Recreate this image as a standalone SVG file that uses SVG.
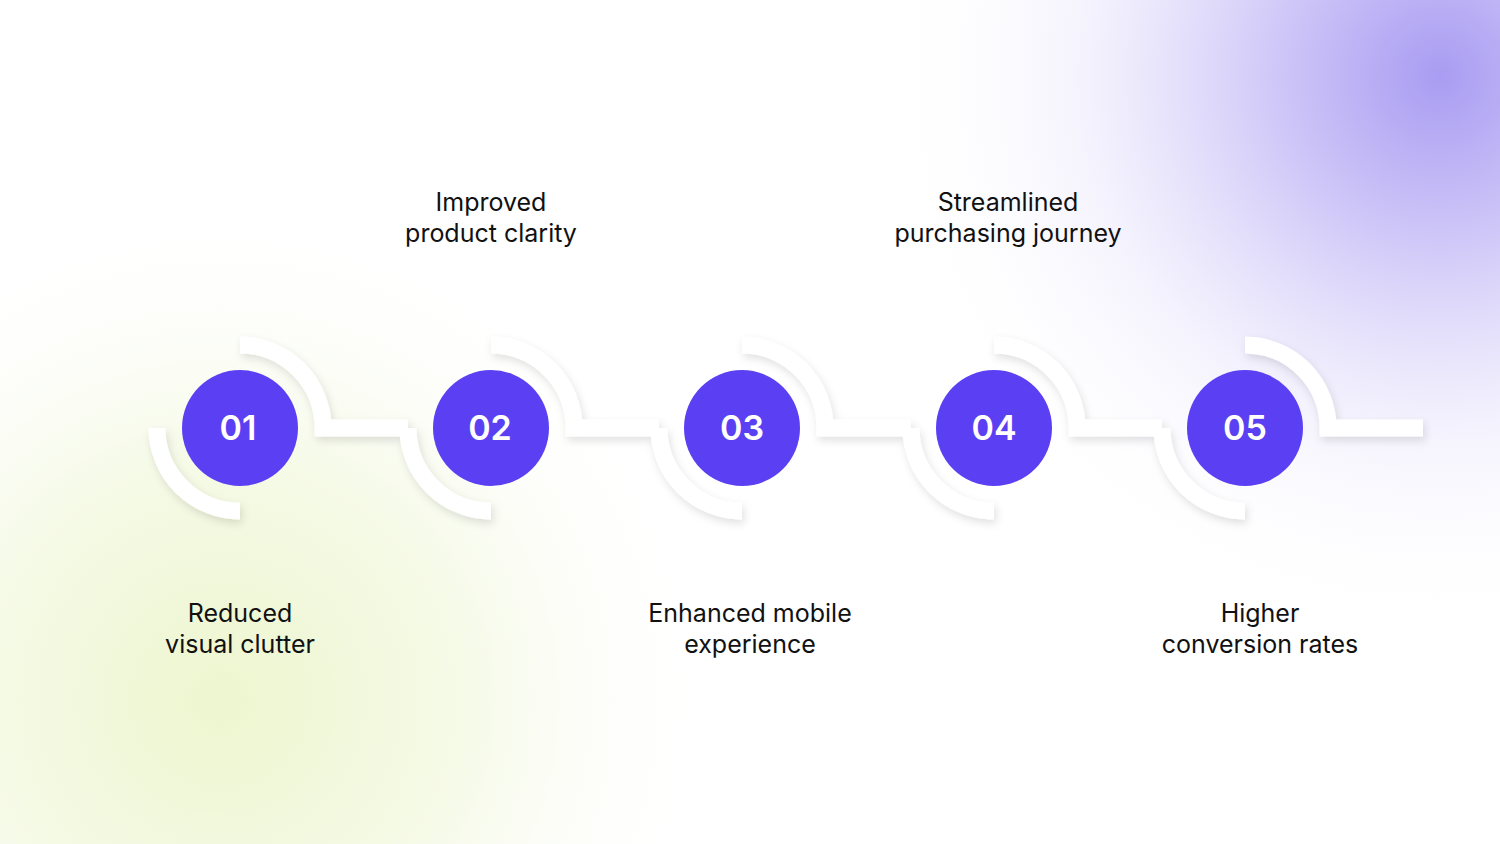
<svg xmlns="http://www.w3.org/2000/svg" width="1500" height="844" viewBox="0 0 1500 844">
<defs>
<radialGradient id="gp" cx="1440" cy="75" r="560" gradientUnits="userSpaceOnUse">
<stop offset="0" stop-color="#a99cf2"/><stop offset="0.3" stop-color="#d0c8f8"/><stop offset="0.65" stop-color="#f1effd" stop-opacity="0.7"/><stop offset="1" stop-color="#fff" stop-opacity="0"/></radialGradient>
<radialGradient id="gg" cx="220" cy="700" r="500" gradientUnits="userSpaceOnUse">
<stop offset="0" stop-color="#edf6cf"/><stop offset="0.5" stop-color="#f6fae8"/><stop offset="1" stop-color="#fff" stop-opacity="0"/></radialGradient>
<filter id="sh" x="-20%" y="-50%" width="140%" height="200%"><feDropShadow dx="2" dy="4" stdDeviation="4" flood-color="#000" flood-opacity="0.12"/></filter>
</defs>
<style>
.trk{fill:none;stroke:#fff;stroke-width:17}
.c{fill:#5a3ff3}
.n{font-family:Inter,"Liberation Sans",sans-serif;font-size:34px;font-weight:600;fill:#fff;text-anchor:middle}
.l{font-family:Inter,"Liberation Sans",sans-serif;font-size:25px;fill:#111;text-anchor:middle}
</style>
<rect width="1500" height="844" fill="#fff"/>
<rect width="1500" height="844" fill="url(#gg)"/>
<rect width="1500" height="844" fill="url(#gp)"/>
<g id="connectors" filter="url(#sh)">
<path class="trk" d="M240,345 A83,83 0 0 1 323,428 L408,428"/>
<path class="trk" d="M491,345 A83,83 0 0 1 574,428 L659,428"/>
<path class="trk" d="M742,345 A83,83 0 0 1 825,428 L911,428"/>
<path class="trk" d="M994,345 A83,83 0 0 1 1077,428 L1162,428"/>
<path class="trk" d="M1245,345 A83,83 0 0 1 1328,428 L1423,428"/>
<path class="trk" d="M157,428 A83,83 0 0 0 240,511"/>
<path class="trk" d="M408,428 A83,83 0 0 0 491,511"/>
<path class="trk" d="M659,428 A83,83 0 0 0 742,511"/>
<path class="trk" d="M911,428 A83,83 0 0 0 994,511"/>
<path class="trk" d="M1162,428 A83,83 0 0 0 1245,511"/>
</g>
<g id="n1"><circle class="c" cx="240" cy="428" r="58"/><text class="n" x="238" y="440">01</text><text class="l" x="240" y="622">Reduced</text><text class="l" x="240" y="653">visual clutter</text></g>
<g id="n2"><circle class="c" cx="491" cy="428" r="58"/><text class="n" x="490" y="440">02</text><text class="l" x="491" y="211">Improved</text><text class="l" x="491" y="242">product clarity</text></g>
<g id="n3"><circle class="c" cx="742" cy="428" r="58"/><text class="n" x="742" y="440">03</text><text class="l" x="750" y="622">Enhanced mobile</text><text class="l" x="750" y="653">experience</text></g>
<g id="n4"><circle class="c" cx="994" cy="428" r="58"/><text class="n" x="994" y="440">04</text><text class="l" x="1008" y="211">Streamlined</text><text class="l" x="1008" y="242">purchasing journey</text></g>
<g id="n5"><circle class="c" cx="1245" cy="428" r="58"/><text class="n" x="1245" y="440">05</text><text class="l" x="1260" y="622">Higher</text><text class="l" x="1260" y="653">conversion rates</text></g>
</svg>
